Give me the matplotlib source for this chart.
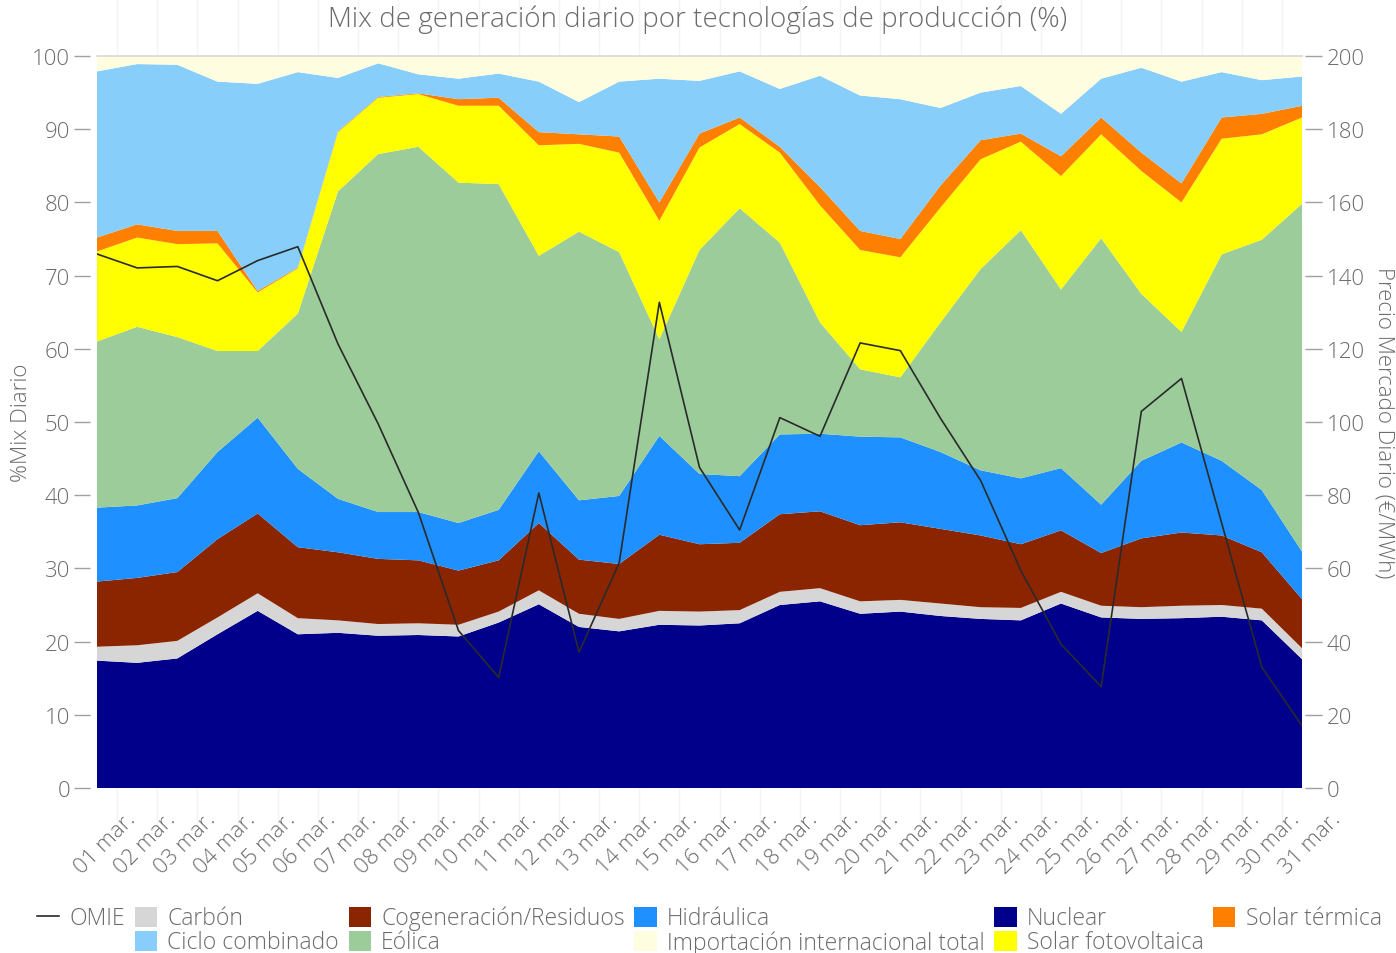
import matplotlib
matplotlib.use("Agg")
import matplotlib.pyplot as plt
import matplotlib.transforms as mtransforms
from matplotlib.patches import Patch
from matplotlib.lines import Line2D
import numpy as np

plt.rcParams['font.family'] = ['Open Sans', 'DejaVu Sans']
plt.rcParams['font.weight'] = 'light'

# ==============================
# DATA (% del mix diario, marzo)
# ==============================
dias = ["01 mar.", "02 mar.", "03 mar.", "04 mar.", "05 mar.", "06 mar.", "07 mar.",
        "08 mar.", "09 mar.", "10 mar.", "11 mar.", "12 mar.", "13 mar.", "14 mar.",
        "15 mar.", "16 mar.", "17 mar.", "18 mar.", "19 mar.", "20 mar.", "21 mar.",
        "22 mar.", "23 mar.", "24 mar.", "25 mar.", "26 mar.", "27 mar.", "28 mar.",
        "29 mar.", "30 mar.", "31 mar."]

nuclear = [17.4, 17.1, 17.7, 21.0, 24.2, 21.0, 21.2, 20.8, 20.9, 20.7, 22.6, 25.1, 22.0, 21.4, 22.3, 22.2,
           22.5, 25.0, 25.5, 23.8, 24.1, 23.5, 23.1, 22.9, 25.2, 23.3, 23.1, 23.2, 23.4, 22.9, 17.6]
carbon = [1.9, 2.4, 2.4, 2.3, 2.4, 2.2, 1.7, 1.6, 1.6, 1.6, 1.5, 1.9, 1.8, 1.7, 1.9, 1.9,
          1.8, 1.8, 1.8, 1.7, 1.6, 1.7, 1.6, 1.7, 1.6, 1.6, 1.6, 1.7, 1.6, 1.6, 1.5]
cogeneracion = [8.9, 9.2, 9.4, 10.7, 10.9, 9.7, 9.3, 8.9, 8.6, 7.4, 7.0, 9.2, 7.4, 7.5, 10.4, 9.2,
                9.2, 10.6, 10.5, 10.4, 10.6, 10.2, 9.8, 8.7, 8.4, 7.2, 9.4, 10.0, 9.5, 7.7, 6.7]
hidraulica = [10.1, 9.9, 10.1, 11.9, 13.1, 10.7, 7.3, 6.4, 6.6, 6.5, 6.9, 9.8, 8.1, 9.3, 13.5, 9.6,
              9.1, 10.9, 10.6, 12.1, 11.6, 10.5, 8.9, 9.0, 8.5, 6.6, 10.6, 12.3, 10.2, 8.5, 6.5]
eolica = [22.7, 24.4, 22.0, 13.8, 9.1, 21.2, 42.0, 48.9, 49.9, 46.5, 44.5, 26.7, 36.7, 33.3, 13.2, 30.6,
          36.6, 26.2, 15.2, 9.2, 8.2, 17.7, 27.5, 33.9, 24.4, 36.4, 22.8, 15.1, 28.2, 34.2, 47.5]
solar_fv = [12.3, 12.2, 12.7, 14.7, 8.0, 6.2, 8.1, 7.7, 7.2, 10.5, 10.7, 15.1, 12.0, 13.6, 16.2, 14.0,
            11.5, 12.3, 16.0, 16.3, 16.4, 15.7, 15.0, 12.1, 15.5, 14.2, 16.8, 17.7, 15.8, 14.4, 11.8]
solar_termica = [1.9, 1.8, 1.8, 1.7, 0.2, 0.1, 0.1, 0.1, 0.1, 0.9, 1.1, 1.8, 1.3, 2.2, 2.5, 1.9,
                 0.9, 0.8, 2.5, 2.6, 2.5, 3.0, 2.6, 1.1, 2.7, 2.3, 2.5, 2.6, 2.9, 2.8, 1.6]
ciclo_combinado = [22.7, 21.9, 22.7, 20.4, 28.3, 26.7, 7.3, 4.6, 2.6, 2.8, 3.3, 6.9, 4.4, 7.5, 16.9, 7.2,
                   6.3, 7.9, 15.2, 18.5, 19.1, 10.6, 6.5, 6.5, 5.8, 5.3, 11.6, 13.9, 6.2, 4.6, 4.0]
importacion = [2.1, 1.1, 1.2, 3.5, 3.8, 2.2, 3.0, 1.0, 2.5, 3.1, 2.4, 3.5, 6.3, 3.5, 3.1, 3.4,
               2.1, 4.5, 2.7, 5.4, 5.9, 7.1, 5.0, 4.1, 7.9, 3.1, 1.6, 3.5, 2.2, 3.3, 2.8]

# precio mercado diario (EUR/MWh)
omie = [145.9, 142.1, 142.5, 138.6, 144.1, 147.9, 121.3, 99.5, 75.3, 43.0, 30.2, 80.6, 37.1, 61.5, 132.7, 87.6,
        70.5, 101.2, 96.1, 121.6, 119.5, 101.0, 84.0, 59.4, 39.3, 27.7, 102.9, 111.9, 72.4, 33.0, 17.0]

# ==============================
# STYLE
# ==============================
series = [
    ("Nuclear", nuclear, "#00008B"),
    ("Carbón", carbon, "#D6D6D6"),
    ("Cogeneración/Residuos", cogeneracion, "#8B2500"),
    ("Hidráulica", hidraulica, "#1E90FF"),
    ("Eólica", eolica, "#9BCC9A"),
    ("Solar fotovoltaica", solar_fv, "#FFFF00"),
    ("Solar térmica", solar_termica, "#FF8000"),
    ("Ciclo combinado", ciclo_combinado, "#87CEFA"),
    ("Importación internacional total", importacion, "#FFFDE0"),
]
color_of = {name: c for name, _, c in series}
text_color = "#6b6b6b"
tick_color = "#a0a0a0"
fs = 16

x = np.arange(len(dias))

fig = plt.figure(figsize=(13.96, 9.54), dpi=100)
ax = fig.add_axes([97 / 1396, 1 - 789 / 954, 1205 / 1396, 732 / 954])
ax.patch.set_visible(False)

ax.stackplot(x, *[vals for _, vals, _ in series],
             colors=[c for _, _, c in series], linewidth=0, zorder=2)
ax.set_xlim(0, len(dias) - 1)
ax.set_ylim(0, 100)

# faint grid outside the plot area
xa = ax.get_xaxis_transform()
ax.vlines(x[:-1] + 0.5, 1.0, 1.08, transform=xa, colors="#f4f4f4", lw=1, clip_on=False, zorder=0)
ax.vlines(x[:-1] + 0.5, -0.05, 0.0, transform=xa, colors="#f4f4f4", lw=1, clip_on=False, zorder=0)
ax.axhline(100, color="#d8d8d8", lw=1.2, zorder=5, clip_on=False)

for s in ax.spines.values():
    s.set_visible(False)
ax.spines["left"].set_position(("outward", 5))

ax.set_yticks(range(0, 101, 10))
ax.tick_params(axis="y", length=11.5, width=1, color=tick_color, pad=3,
               labelsize=fs, labelcolor=text_color)
ax.set_xticks([])

# x tick labels rotated, anchored at their end
lab_tr = mtransforms.offset_copy(xa, fig=fig, x=35, y=-28, units="dots")
for xi, d in zip(x, dias):
    ax.text(xi, 0, d, transform=lab_tr, rotation=45, rotation_mode="anchor",
            ha="right", va="center", fontsize=fs, color=text_color)

# precio OMIE en eje secundario
ax2 = ax.twinx()
ax2.plot(x, omie, color="#2a2a2a", lw=1.2, zorder=10)
ax2.set_ylim(0, 200)
ax2.set_xlim(0, len(dias) - 1)
for s in ax2.spines.values():
    s.set_visible(False)
ax2.spines["right"].set_position(("outward", 2))
ax2.set_yticks(range(0, 201, 20))
ax2.tick_params(axis="y", length=12, width=1, color=tick_color, pad=4,
                labelsize=fs, labelcolor=text_color)

# textos
fig.text(0.5, 1 - 20 / 954, "Mix de generación diario por tecnologías de producción (%)",
         ha="center", va="center", fontsize=20, color=text_color)
fig.text(22 / 1396, 1 - 423 / 954, "%Mix Diario", rotation=90,
         ha="center", va="center", fontsize=fs, color=text_color)
fig.text(1384 / 1396, 1 - 423 / 954, "Precio Mercado Diario (€/MWh)", rotation=-90,
         ha="center", va="center", fontsize=fs, color=text_color)

# leyenda
order = ["OMIE", "", "Carbón", "Ciclo combinado", "Cogeneración/Residuos", "Eólica",
         "Hidráulica", "Importación internacional total", "Nuclear", "Solar fotovoltaica",
         "Solar térmica"]
handles = []
for name in order:
    if name == "OMIE":
        handles.append(Line2D([], [], color="#2a2a2a", lw=1.2))
    elif name == "":
        handles.append(Line2D([], [], color="none"))
    else:
        handles.append(Patch(facecolor=color_of[name], edgecolor="none"))
leg = fig.legend(handles, order, loc="upper left", bbox_to_anchor=(37 / 1396, 1 - 907 / 954),
                 ncol=6, frameon=False, fontsize=16.5, handlelength=0.97, handleheight=0.97,
                 handletextpad=0.45, columnspacing=0.42, labelspacing=0.0,
                 borderpad=0, borderaxespad=0)
for t in leg.get_texts():
    t.set_color(text_color)

fig.savefig("out.png", dpi=100)
